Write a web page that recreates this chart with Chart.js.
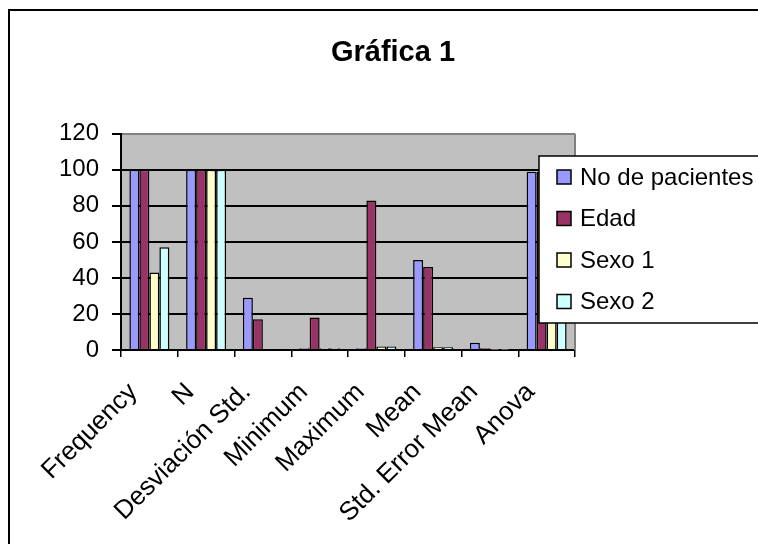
<!DOCTYPE html>
<html>
<head>
<meta charset="utf-8">
<script src="https://cdn.jsdelivr.net/npm/chart.js@4/dist/chart.umd.min.js"></script>
<style>
  html, body { margin: 0; padding: 0; overflow: hidden; background: #ffffff; }
  #wrap { position: relative; width: 786px; height: 544px; }
</style>
</head>
<body>
<div id="wrap"><canvas id="c" width="786" height="544"></canvas></div>
<script>
// Categories along the x axis
const categories = ['Frequency', 'N', 'Desviación Std.', 'Minimum', 'Maximum', 'Mean', 'Std. Error Mean', 'Anova'];

// Series values
const noPacientes = [100, 100, 29, 1, 1, 50, 4, 99];
const edad        = [100, 100, 17, 18, 83, 46, 1, 99];
const sexo1       = [43, 100, 0, 1, 2, 1.5, 0.1, 99];
const sexo2       = [57, 100, 0, 1, 2, 1.5, 0.1, 99];

// Series names
const seriesNames = ['No de pacientes', 'Edad', 'Sexo 1', 'Sexo 2'];

// Value axis
const yMin = 0;
const yMax = 120;
const yStep = 20;

const FONT = "'Liberation Sans', Arial, sans-serif";
const colors = ['#9999FF', '#993366', '#FFFFCC', '#CCFFFF'];
const seriesData = [noPacientes, edad, sexo1, sexo2];

// Plot background, right border and outer frame
const framePlugin = {
  id: 'frame',
  beforeDraw(chart) {
    const { ctx, chartArea: a } = chart;
    ctx.save();
    ctx.fillStyle = '#ffffff';
    ctx.fillRect(0, 0, chart.width, chart.height);
    ctx.fillStyle = '#C0C0C0';
    ctx.fillRect(a.left, a.top, a.right - a.left, a.bottom - a.top);
    ctx.restore();
  },
  beforeDatasetsDraw(chart) {
    const { ctx, chartArea: a } = chart;
    ctx.save();
    ctx.strokeStyle = '#808080';
    ctx.lineWidth = 2;
    ctx.beginPath();
    ctx.moveTo(a.right, a.top);
    ctx.lineTo(a.right, a.bottom);
    ctx.stroke();
    ctx.restore();
  },
  afterDraw(chart) {
    const { ctx } = chart;
    ctx.save();
    ctx.strokeStyle = '#000000';
    ctx.lineWidth = 2;
    ctx.strokeRect(9, 10, chart.width + 20, chart.height + 20);
    ctx.restore();
  }
};

// Boxed legend drawn on top of the plot
const boxLegendPlugin = {
  id: 'boxLegend',
  afterDraw(chart, args, opts) {
    const { ctx } = chart;
    const x = opts.x, y = opts.y, w = opts.width, h = opts.height;
    ctx.save();
    ctx.fillStyle = '#ffffff';
    ctx.fillRect(x, y, w, h);
    ctx.strokeStyle = '#000000';
    ctx.lineWidth = 1.5;
    ctx.strokeRect(x, y, w, h);
    ctx.font = '24px ' + FONT;
    ctx.textBaseline = 'middle';
    chart.data.datasets.forEach((ds, i) => {
      const cy = y + opts.firstRow + i * opts.rowGap;
      ctx.fillStyle = ds.backgroundColor;
      ctx.fillRect(x + 18, cy - 7, 14, 14);
      ctx.strokeStyle = '#000000';
      ctx.lineWidth = 1.5;
      ctx.strokeRect(x + 18, cy - 7, 14, 14);
      ctx.fillStyle = '#000000';
      ctx.fillText(ds.label, x + 41, cy + 1);
    });
    ctx.restore();
  }
};

new Chart(document.getElementById('c'), {
  type: 'bar',
  data: {
    labels: categories,
    datasets: seriesNames.map((name, i) => ({
      label: name,
      data: seriesData[i],
      backgroundColor: colors[i],
      borderColor: '#000000',
      borderWidth: 1.5,
      categoryPercentage: 0.705,
      barPercentage: 1.0
    }))
  },
  options: {
    responsive: false,
    animation: false,
    layout: { padding: { left: 0, right: 0, top: 0, bottom: 0 } },
    plugins: {
      legend: { display: false },
      tooltip: { enabled: false },
      title: {
        display: true,
        text: 'Gráfica 1',
        color: '#000000',
        font: { family: FONT, size: 29, weight: 'bold', lineHeight: 1.2 },
        padding: { top: 36, bottom: 63 }
      },
      boxLegend: { x: 539, y: 156, width: 260, height: 167, firstRow: 21, rowGap: 41.5 }
    },
    scales: {
      x: {
        offset: true,
        afterFit(scale) { scale.height = 194; },
        grid: {
          offset: true,
          drawOnChartArea: false,
          drawTicks: true,
          tickLength: 7,
          color: '#000000',
          lineWidth: 1.5
        },
        border: { display: true, color: '#000000', width: 2 },
        ticks: {
          color: '#000000',
          font: { family: FONT, size: 26 },
          minRotation: 45,
          maxRotation: 45,
          autoSkip: false,
          padding: 20,
          labelOffset: -16
        }
      },
      y: {
        min: yMin,
        max: yMax,
        afterFit(scale) { scale.width = 121; },
        grid: {
          color: (c) => (c.tick && c.tick.value === yMax ? '#808080' : '#000000'),
          tickColor: '#000000',
          lineWidth: 2,
          tickLength: 9
        },
        border: { display: true, color: '#000000', width: 2 },
        ticks: {
          stepSize: yStep,
          color: '#000000',
          font: { family: FONT, size: 24 },
          padding: 13
        }
      },
      // Empty right-hand margin reserved for the legend
      yRight: {
        position: 'right',
        min: yMin,
        max: yMax,
        afterFit(scale) { scale.width = 211; },
        grid: { display: false, drawTicks: false },
        border: { display: false },
        ticks: { display: false }
      }
    }
  },
  plugins: [framePlugin, boxLegendPlugin]
});
</script>
</body>
</html>
